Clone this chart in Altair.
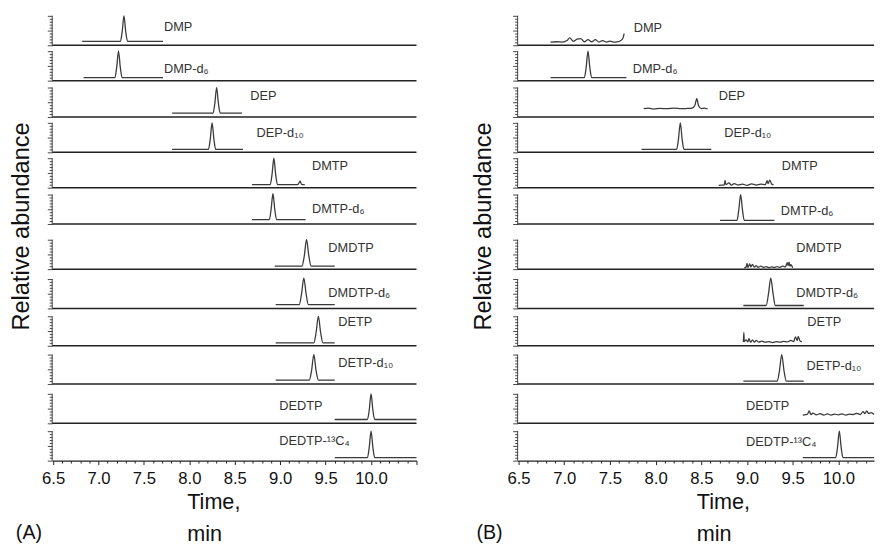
import json
import altair as alt
import pandas as pd

FONT = "Liberation Sans"
TRACE = "#3a3a3a"
AXIS = "#222222"
LABEL = "#333333"

NAMES = ["DMP", "DMP-d₆", "DEP", "DEP-d₁₀", "DMTP", "DMTP-d₆", "DMDTP", "DMDTP-d₆",
         "DETP", "DETP-d₁₀", "DEDTP", "DEDTP-¹³C₄"]

# ---------------- Panel A traces (time, min ; relative level 0-100) ----------------
A_DMP_T = [6.82, 7.24, 7.26, 7.28, 7.30, 7.32, 7.71]
A_DMP_Y = [13, 13, 45, 100, 45, 13, 13]
A_DMPD_T = [6.835, 7.18, 7.20, 7.22, 7.24, 7.26, 7.71]
A_DMPD_Y = [10, 10, 45, 100, 45, 10, 10]
A_DEP_T = [7.81, 8.26, 8.28, 8.30, 8.32, 8.34, 8.58]
A_DEP_Y = [13, 13, 45, 100, 45, 13, 13]
A_DEPD_T = [7.81, 8.21, 8.23, 8.25, 8.27, 8.29, 8.59]
A_DEPD_Y = [10, 10, 45, 100, 45, 10, 10]
A_DMTP_T = [8.69, 8.89, 8.91, 8.93, 8.95, 8.97, 9.19, 9.21, 9.22, 9.235, 9.27]
A_DMTP_Y = [10, 10, 45, 100, 45, 10, 10, 18, 22, 11, 10]
A_DMTPD_T = [8.69, 8.88, 8.90, 8.92, 8.94, 8.96, 9.28]
A_DMTPD_Y = [15, 15, 50, 103, 50, 15, 15]
A_DMDTP_T = [8.94, 9.24, 9.265, 9.29, 9.315, 9.34, 9.60]
A_DMDTP_Y = [10, 10, 45, 100, 45, 10, 10]
A_DMDTPD_T = [8.95, 9.21, 9.235, 9.26, 9.285, 9.31, 9.60]
A_DMDTPD_Y = [13, 13, 50, 103, 50, 13, 13]
A_DETP_T = [8.95, 9.37, 9.395, 9.42, 9.445, 9.47, 9.60]
A_DETP_Y = [10, 10, 45, 100, 45, 10, 10]
A_DETPD_T = [8.95, 9.32, 9.345, 9.37, 9.395, 9.42, 9.60]
A_DETPD_Y = [13, 13, 45, 100, 45, 13, 13]
A_DEDTP_T = [9.60, 9.96, 9.98, 10.00, 10.02, 10.04, 10.50]
A_DEDTP_Y = [13, 13, 45, 100, 45, 13, 13]
A_DEDTPC_T = [9.60, 9.96, 9.98, 10.00, 10.02, 10.04, 10.50]
A_DEDTPC_Y = [10, 10, 45, 100, 45, 10, 10]

# ---------------- Panel B traces ----------------
B_DMP_T = [6.85, 6.92, 6.98, 7.03, 7.06, 7.10, 7.14, 7.18, 7.22, 7.26, 7.30, 7.34,
           7.38, 7.42, 7.46, 7.50, 7.54, 7.58, 7.62, 7.645, 7.655]
B_DMP_Y = [11, 12, 11, 16, 25, 13, 21, 23, 12, 19, 12, 19, 11, 16, 11, 14, 11, 12, 16, 26, 40]
B_DMPD_T = [6.85, 7.22, 7.24, 7.26, 7.28, 7.30, 7.68]
B_DMPD_Y = [10, 10, 45, 100, 45, 10, 10]
B_DEP_T = [7.87, 7.92, 7.98, 8.05, 8.12, 8.20, 8.28, 8.35, 8.40, 8.43, 8.45, 8.47, 8.50, 8.53, 8.57]
B_DEP_Y = [28, 30, 27, 29, 28, 30, 28, 29, 30, 40, 62, 38, 28, 30, 27]
B_DEPD_T = [7.845, 8.23, 8.25, 8.27, 8.29, 8.31, 8.61]
B_DEPD_Y = [10, 10, 45, 100, 45, 10, 10]
B_DMTP_T = [8.69, 8.72, 8.75, 8.76, 8.77, 8.80, 8.83, 8.86, 8.90, 8.95, 9.00, 9.05,
            9.10, 9.15, 9.20, 9.22, 9.23, 9.25, 9.27, 9.29]
B_DMTP_Y = [8, 9, 9, 25, 10, 16, 9, 14, 9, 12, 8, 13, 9, 12, 10, 24, 14, 26, 12, 10]
B_DMTPD_T = [8.705, 8.89, 8.91, 8.93, 8.95, 8.97, 9.30]
B_DMTPD_Y = [12, 12, 48, 100, 48, 12, 12]
B_DMDTP_T = [8.97, 8.99, 9.00, 9.01, 9.03, 9.04, 9.06, 9.08, 9.10, 9.12, 9.15, 9.18, 9.21,
             9.24, 9.27, 9.30, 9.33, 9.36, 9.39, 9.42, 9.44, 9.45, 9.46, 9.47, 9.48, 9.50]
B_DMDTP_Y = [5, 7, 20, 6, 18, 8, 16, 7, 12, 6, 10, 6, 9, 5, 8, 6, 9, 6, 10, 8, 22, 12, 24, 10, 15, 5]
B_DMDTPD_T = [8.96, 9.21, 9.235, 9.26, 9.285, 9.31, 9.62]
B_DMDTPD_Y = [10, 10, 50, 103, 50, 10, 10]
B_DETP_T = [8.96, 8.965, 8.97, 8.99, 9.01, 9.02, 9.04, 9.06, 9.08, 9.10, 9.13, 9.16, 9.20,
            9.24, 9.28, 9.32, 9.36, 9.40, 9.44, 9.48, 9.51, 9.53, 9.55, 9.56, 9.58, 9.60]
B_DETP_Y = [13, 45, 14, 20, 13, 24, 12, 20, 12, 18, 12, 16, 12, 14, 11, 14, 12, 15, 13, 18,
            14, 30, 18, 32, 16, 14]
B_DETPD_T = [8.96, 9.33, 9.355, 9.38, 9.405, 9.43, 9.62]
B_DETPD_Y = [10, 10, 45, 100, 45, 10, 10]
B_DEDTP_T = [9.61, 9.63, 9.66, 9.68, 9.70, 9.72, 9.76, 9.80, 9.84, 9.88, 9.92, 9.96, 10.00,
             10.04, 10.08, 10.12, 10.16, 10.20, 10.24, 10.27, 10.29, 10.31, 10.33, 10.36, 10.39]
B_DEDTP_Y = [28, 29, 30, 42, 30, 35, 29, 33, 28, 32, 28, 31, 29, 32, 28, 31, 30, 34, 30, 40,
             33, 42, 34, 36, 30]
B_DEDTPC_T = [9.61, 9.97, 9.99, 10.01, 10.03, 10.05, 10.39]
B_DEDTPC_Y = [10, 10, 45, 100, 45, 10, 10]

# label anchors (time, level)
A_LAB_T = [7.72, 7.72, 8.67, 8.74, 9.35, 9.35, 9.53, 9.53, 9.64, 9.64, 8.99, 8.99]
A_LAB_Y = [63, 38, 72, 65, 72, 50, 70, 53, 80, 70, 60, 65]
B_LAB_T = [7.76, 7.75, 8.69, 8.75, 9.38, 9.37, 9.54, 9.54, 9.66, 9.65, 8.99, 8.99]
B_LAB_Y = [57, 40, 72, 67, 72, 45, 70, 53, 80, 60, 57, 63]

A_TRACES = [(A_DMP_T, A_DMP_Y), (A_DMPD_T, A_DMPD_Y), (A_DEP_T, A_DEP_Y), (A_DEPD_T, A_DEPD_Y),
            (A_DMTP_T, A_DMTP_Y), (A_DMTPD_T, A_DMTPD_Y), (A_DMDTP_T, A_DMDTP_Y),
            (A_DMDTPD_T, A_DMDTPD_Y), (A_DETP_T, A_DETP_Y), (A_DETPD_T, A_DETPD_Y),
            (A_DEDTP_T, A_DEDTP_Y), (A_DEDTPC_T, A_DEDTPC_Y)]
B_TRACES = [(B_DMP_T, B_DMP_Y), (B_DMPD_T, B_DMPD_Y), (B_DEP_T, B_DEP_Y), (B_DEPD_T, B_DEPD_Y),
            (B_DMTP_T, B_DMTP_Y), (B_DMTPD_T, B_DMTPD_Y), (B_DMDTP_T, B_DMDTP_Y),
            (B_DMDTPD_T, B_DMDTPD_Y), (B_DETP_T, B_DETP_Y), (B_DETPD_T, B_DETPD_Y),
            (B_DEDTP_T, B_DEDTP_Y), (B_DEDTPC_T, B_DEDTPC_Y)]

A_DOMAIN = [6.49, 10.50]
B_DOMAIN = [6.49, 10.39]
A_TICKS = [round(6.5 + 0.1 * k, 1) for k in range(41)]
B_TICKS = [round(6.5 + 0.1 * k, 1) for k in range(39)]

# ---------------- layout (pixels) ----------------
H = 453                                   # plot height of a panel
BASE_FROM_TOP = [30, 66, 103, 139, 175, 212, 258, 298, 336, 375, 415, 453]
PX_PER_UNIT = 0.30                        # 100 % of a trace = 30 px


def make_panel(traces, lab_t, lab_y, dom, width, ticks, title_x, tag, tag_x, ypad):
    bases = [H - b for b in BASE_FROM_TOP]

    recs = []
    for i, (ts, ys) in enumerate(traces):
        for t, v in zip(ts, ys):
            recs.append({"t": t, "v": v, "row": i, "base": bases[i]})
    tdf = pd.DataFrame(recs)
    ldf = pd.DataFrame({"t": lab_t, "v": lab_y, "s": NAMES, "base": bases})
    bdf = pd.DataFrame({"y": bases[:-1]})
    rdf = pd.DataFrame({"y": bases, "y2": [b + 100 * PX_PER_UNIT for b in bases]})

    yticks, majors = [], []
    for b in bases:
        yticks += [b + 3 * k for k in range(11)]
        majors += [b, b + 15, b + 30]

    xs = alt.Scale(domain=dom, nice=False, zero=False)
    ysc = alt.Scale(domain=[0, H], nice=False, zero=False)
    xaxis = alt.Axis(
        values=ticks,
        tickSize={"condition": {"test": "round(datum.value*10) % 5 === 0", "value": 4}, "value": 2.5},
        tickColor=AXIS, tickWidth=1,
        labelExpr="round(datum.value*10) % 5 === 0 && datum.value < 10.25 ? format(datum.value, '.1f') : ''",
        labelFont=FONT, labelFontSize=17, labelColor="#111", labelPadding=6,
        labelOverlap=False, labelFlush=False,
        domainColor=AXIS, domainWidth=1.5, grid=False,
        title=["Time,", "min"], titleFont=FONT, titleFontSize=22, titleFontWeight="normal",
        titleColor="#111", titleAlign="left", titleX=title_x, titleLineHeight=32, titlePadding=6,
    )
    yaxis = alt.Axis(
        values=yticks, labels=False, domain=False, grid=False,
        tickSize={"condition": {"test": "indexof(" + json.dumps(majors) + ", datum.value) >= 0",
                                "value": 5}, "value": 3},
        tickColor="#444", tickWidth=1, minExtent=5, maxExtent=5,
        title="Relative abundance", titleFont=FONT, titleFontSize=24, titleFontWeight="normal",
        titleColor="#111", titlePadding=ypad, titleY=214,
    )

    lines = alt.Chart(tdf).transform_calculate(
        y=f"datum.base + datum.v * {PX_PER_UNIT}"
    ).mark_line(color=TRACE, strokeWidth=1.3, interpolate="monotone").encode(
        x=alt.X("t:Q", scale=xs, axis=xaxis),
        y=alt.Y("y:Q", scale=ysc, axis=yaxis),
        detail="row:N",
    )
    baselines = alt.Chart(bdf).mark_rule(color=AXIS, strokeWidth=1.5).encode(
        x=alt.value(0), x2=alt.value(width),
        y=alt.Y("y:Q", scale=ysc, axis=yaxis),
    )
    rulers = alt.Chart(rdf).mark_rule(color="#444", strokeWidth=1).encode(
        x=alt.value(0),
        y=alt.Y("y:Q", scale=ysc, axis=yaxis),
        y2="y2:Q",
    )
    labels = alt.Chart(ldf).transform_calculate(
        y=f"datum.base + datum.v * {PX_PER_UNIT}"
    ).mark_text(align="left", baseline="middle", font=FONT, fontSize=13, color=LABEL).encode(
        x=alt.X("t:Q", scale=xs, axis=xaxis),
        y=alt.Y("y:Q", scale=ysc, axis=yaxis),
        text="s:N",
    )
    tagc = alt.Chart(pd.DataFrame({"s": [tag]})).mark_text(
        fontSize=20, font=FONT, color="#111", align="left", baseline="alphabetic"
    ).encode(x=alt.value(tag_x), y=alt.value(533), text="s:N")

    return alt.layer(baselines, rulers, lines, labels, tagc).properties(width=width, height=H)


panel_a = make_panel(A_TRACES, A_LAB_T, A_LAB_Y, A_DOMAIN, 371, A_TICKS, 137, "(A)", -37, 14)
panel_b = make_panel(B_TRACES, B_LAB_T, B_LAB_Y, B_DOMAIN, 363, B_TICKS, 182, "(B)", -42, 18)

chart = alt.hconcat(panel_a, panel_b, spacing=53).properties(
    padding={"left": 2, "top": 0, "right": 0, "bottom": 0}
).configure(font=FONT).configure_view(stroke=None)

chart.save("out.html", embed_options={"renderer": "svg", "actions": False})
